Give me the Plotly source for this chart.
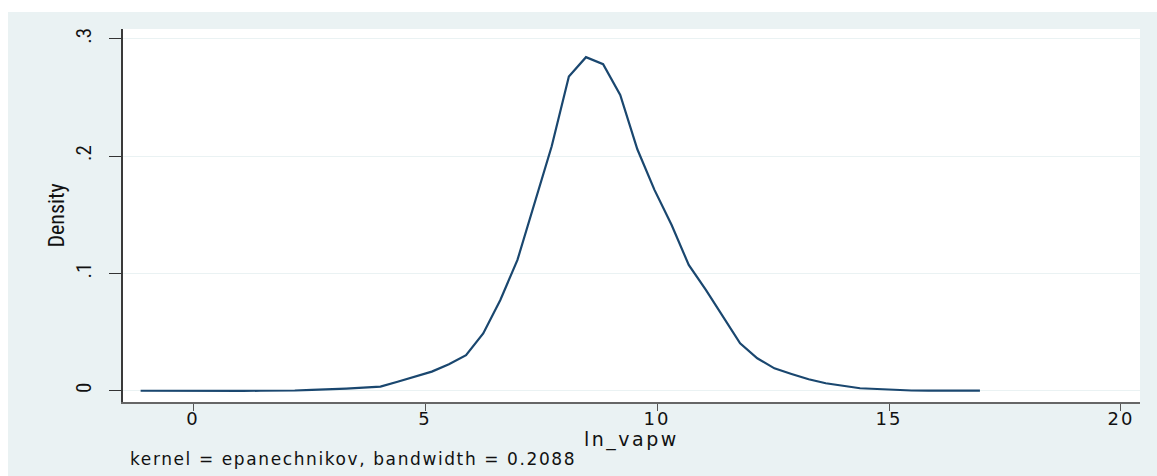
import plotly.graph_objects as go

# Kernel density estimate of ln_vapw (50 evaluation points)
ln_vapw = [
    -1.130, -0.761, -0.392, -0.022, 0.347, 0.716, 1.085, 1.454, 1.823, 2.193,
    2.562, 2.931, 3.300, 3.669, 4.039, 4.408, 4.777, 5.146, 5.515, 5.884,
    6.254, 6.623, 6.992, 7.361, 7.730, 8.100, 8.469, 8.838, 9.207, 9.576,
    9.945, 10.315, 10.684, 11.053, 11.422, 11.791, 12.161, 12.530, 12.899, 13.268,
    13.637, 14.006, 14.376, 14.745, 15.114, 15.483, 15.852, 16.222, 16.591, 16.960,
]
density = [
    0.0002, 0.0001, 0.0001, 0.0001, 0.0001, 0.0001, 0.0001, 0.0002, 0.0002, 0.0004,
    0.0009, 0.0012, 0.0020, 0.0028, 0.0037, 0.0079, 0.0122, 0.0165, 0.0228, 0.0305,
    0.0490, 0.0776, 0.1117, 0.1600, 0.2085, 0.2680, 0.2845, 0.2785, 0.2523, 0.2060,
    0.1714, 0.1415, 0.1074, 0.0861, 0.0633, 0.0407, 0.0279, 0.0193, 0.0145, 0.0100,
    0.0066, 0.0045, 0.0023, 0.0017, 0.0009, 0.0004, 0.0003, 0.0001, 0.0003, 0.0003,
]

x_tick_vals = [0, 5, 10, 15, 20]
y_tick_vals = [0, 0.1, 0.2, 0.3]
y_tick_text = ["0", ".1", ".2", ".3"]

x_title = "ln_vapw"
y_title = "Density"
note_text = "kernel = epanechnikov, bandwidth = 0.2088"

BG = "#eaf2f3"
LINE = "#1a476f"
WIDE = "DejaVu Sans, Verdana, Arial, sans-serif"
NARROW = "Liberation Sans Narrow, Arial Narrow, Roboto Condensed, Liberation Sans, sans-serif"


def spaced(text, px):
    """Wrap text in a span with extra letter spacing."""
    return f'<span style="letter-spacing:{px}px">{text}</span>'


fig = go.Figure()
fig.add_trace(go.Scatter(
    x=ln_vapw, y=density, mode="lines",
    line=dict(color=LINE, width=2.2),
    hoverinfo="x+y", showlegend=False,
))

fig.update_layout(
    width=1157, height=476,
    margin=dict(l=123, r=17, t=29, b=74, pad=0),
    paper_bgcolor=BG,
    plot_bgcolor="white",
    xaxis=dict(
        range=[-1.51, 20.41],
        tickvals=x_tick_vals,
        ticktext=[spaced(str(v), 2) for v in x_tick_vals],
        ticks="outside", ticklen=7, tickwidth=1.3, tickcolor="#555555",
        tickfont=dict(family=WIDE, size=18, color="#111111"),
        ticklabelstandoff=-7,
        showgrid=False, zeroline=False,
        showline=True, linecolor="#666666", linewidth=1.5,
    ),
    yaxis=dict(
        range=[-0.0094, 0.3085],
        tickvals=y_tick_vals, ticktext=y_tick_text,
        tickangle=-90,
        ticks="outside", ticklen=12, tickwidth=1.3, tickcolor="#333333",
        tickfont=dict(family=NARROW, size=21, color="#111111"),
        ticklabelstandoff=10,
        showgrid=True, gridcolor=BG, gridwidth=1.2,
        zeroline=False,
        showline=True, linecolor="#3a3a3a", linewidth=2,
    ),
    annotations=[
        dict(text=spaced(x_title, 2.5), xref="paper", yref="paper", x=0.5, y=-0.100,
             xanchor="center", yanchor="middle", showarrow=False,
             font=dict(family=WIDE, size=19, color="#111111")),
        dict(text=y_title, xref="paper", yref="paper", x=-0.0649, y=0.5,
             xanchor="center", yanchor="middle", showarrow=False, textangle=-90,
             font=dict(family=NARROW, size=22, color="#111111")),
        dict(text=spaced(note_text, 1.6), xref="paper", yref="paper", x=0.0049, y=-0.152,
             xanchor="left", yanchor="middle", showarrow=False,
             font=dict(family=WIDE, size=17, color="#111111")),
    ],
    shapes=[
        # thin white border along the top and left of the graph region
        dict(type="rect", xref="paper", yref="paper", layer="above",
             x0=-0.13, x1=(8 - 123) / 1017, y0=-0.21, y1=1.08,
             fillcolor="white", line=dict(width=0)),
        dict(type="rect", xref="paper", yref="paper", layer="above",
             x0=-0.13, x1=1.02, y0=(402 - 12) / 373, y1=1.08,
             fillcolor="white", line=dict(width=0)),
    ],
)

fig.write_html("out.html")
